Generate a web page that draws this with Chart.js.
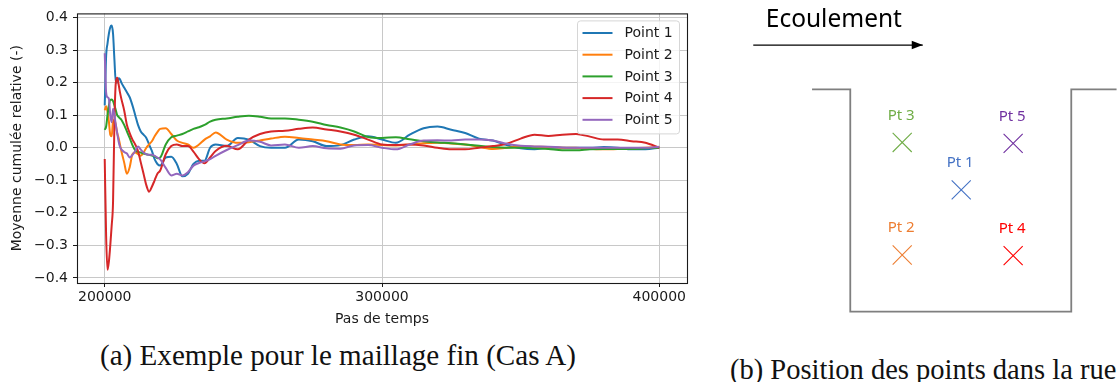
<!DOCTYPE html>
<html>
<head>
<meta charset="utf-8">
<script src="https://cdn.jsdelivr.net/npm/chart.js@4.4.1/dist/chart.umd.min.js"></script>
<style>
  html, body { margin: 0; padding: 0; background: #fff; width: 1119px; height: 382px; overflow: hidden; }
  #plot { position: absolute; left: 0; top: 0; }
  #street { position: absolute; left: 740px; top: 0; }
  .cap { position: absolute; font-family: "Liberation Serif", serif; line-height: 30px; color: #111; white-space: nowrap; }
</style>
</head>
<body>
<canvas id="plot" width="700" height="335"></canvas>
<canvas id="street" width="379" height="340"></canvas>
<div class="cap" style="left:100px; top:340px; font-size:29.1px;">(a) Exemple pour le maillage fin (Cas A)</div>
<div class="cap" style="left:730px; top:355px; font-size:28.5px;">(b) Position des points dans la rue</div>

<script>
// Time steps of the running average (finer sampling at the start of the run)
const steps = [
  200000, 200500, 201000, 201500, 202000, 202500, 203000, 203500, 204000, 204500, 205000, 205500, 206000,
  207000, 208000, 209000, 210000, 211000, 212000, 213000, 214000, 215000, 216000, 217000, 218000, 219000, 220000,
  222000, 224000, 226000, 228000, 230000, 232000, 234000, 236000, 238000, 240000,
  244000, 248000, 252000, 256000, 260000,
  265000, 270000, 275000, 280000, 285000, 290000, 295000, 300000, 305000, 310000, 315000, 320000, 325000, 330000,
  335000, 340000, 345000, 350000, 355000, 360000, 365000, 370000, 375000, 380000, 385000, 390000, 395000, 400000
];

// Relative cumulative mean at each probe
const point1 = [
  0.13, 0.28, 0.32, 0.35, 0.37, 0.375, 0.35, 0.27, 0.2, 0.2, 0.213, 0.21, 0.2,
  0.185, 0.17, 0.155, 0.13, 0.1, 0.07, 0.05, 0.04, 0.03, 0.01, -0.01, -0.035, -0.05, -0.055,
  -0.03, -0.028, -0.05, -0.088, -0.08, -0.05, -0.04, -0.04, 0.0, 0.01,
  0.005, 0.03, 0.025, 0.005, 0.0,
  0.0, 0.025, 0.02, 0.005, 0.008, 0.025, 0.035, 0.025, 0.015, 0.04, 0.06, 0.065, 0.055, 0.045,
  0.028, 0.022, 0.008, -0.002, -0.005, 0.0, 0.0, 0.0, 0.0, 0.002, 0.0, -0.005, -0.005, 0.0
];
const point2 = [
  0.115, 0.127, 0.11, 0.08, 0.04, 0.035, 0.08, 0.085, 0.07, 0.045, 0.03, 0.01, -0.01,
  -0.045, -0.08, -0.06, -0.02, -0.015, -0.02, -0.025, -0.015, 0.0, 0.01, 0.02, 0.035, 0.048, 0.058,
  0.06, 0.042, 0.022, 0.015, 0.01, 0.0, 0.01, 0.025, 0.035, 0.047,
  0.025, 0.015, 0.017, 0.022, 0.028,
  0.034, 0.03, 0.025, 0.02, 0.01, 0.008, 0.01, 0.008, 0.007, 0.01, 0.014, 0.015, 0.013, 0.01,
  0.003, -0.004, 0.0, 0.004, 0.003, 0.002, 0.0, 0.0, -0.003, -0.005, -0.004, -0.002, 0.0, 0.002
];
const point3 = [
  0.055, 0.065, 0.1, 0.13, 0.147, 0.148, 0.143, 0.13, 0.115, 0.1, 0.095, 0.09, 0.086,
  0.07, 0.05, 0.03, 0.008, -0.008, -0.013, -0.015, -0.018, -0.02, -0.022, -0.024, -0.026, -0.032, -0.03,
  0.01, 0.032, 0.037, 0.042, 0.05, 0.058, 0.063, 0.07, 0.08, 0.086,
  0.09, 0.095, 0.098, 0.095, 0.09,
  0.09, 0.086, 0.08, 0.07, 0.062, 0.05, 0.033, 0.03, 0.032, 0.026, 0.02, 0.016, 0.014, 0.01,
  0.006, 0.002, 0.0, 0.0, -0.002, -0.004, -0.008, -0.008, -0.005, -0.004, -0.004, -0.004, -0.002, 0.0
];
const point4 = [
  -0.035, -0.27, -0.375, -0.35, -0.3, -0.24, -0.167, 0.08, 0.2, 0.215, 0.195, 0.17, 0.15,
  0.115, 0.07, 0.045, 0.025, 0.01, -0.01, -0.045, -0.08, -0.115, -0.135, -0.12, -0.1, -0.08, -0.07,
  -0.02, 0.005, 0.01, 0.005, 0.005, -0.012, -0.035, -0.048, -0.03, -0.01,
  0.006, -0.005, 0.025, 0.042, 0.05,
  0.052, 0.058, 0.062, 0.056, 0.05, 0.04, 0.025, 0.01, 0.008, 0.01, 0.007, 0.0, -0.005, -0.005,
  0.0, 0.005, 0.012, 0.028, 0.04, 0.036, 0.04, 0.042, 0.034, 0.025, 0.025, 0.02, 0.015, 0.0
];
const point5 = [
  0.29, 0.17, 0.155, 0.15, 0.1, 0.078, 0.12, 0.1, 0.07, 0.045, 0.02, 0.003, -0.005,
  -0.013, -0.018, -0.03, -0.022, -0.01, 0.004, -0.006, -0.015, -0.02, -0.022, -0.022, -0.025, -0.03, -0.036,
  -0.062, -0.085, -0.08, -0.085, -0.075, -0.055, -0.047, -0.042, -0.035, -0.025,
  -0.007, 0.008, 0.022, 0.018, 0.007,
  0.01, 0.0, 0.005, -0.002, -0.003, 0.007, 0.008, 0.0, -0.005, 0.01, 0.022, 0.023, 0.022, 0.025,
  0.025, 0.022, 0.012, 0.006, 0.004, 0.003, 0.001, 0.0, 0.0, 0.0, 0.0, 0.0, 0.0, 0.003
];

const seriesNames = ['Point 1', 'Point 2', 'Point 3', 'Point 4', 'Point 5'];
const seriesValues = [point1, point2, point3, point4, point5];
const seriesColors = ['#1f77b4', '#ff7f0e', '#2ca02c', '#d62728', '#9467bd'];

const xTicks = [200000, 300000, 400000];
const yTicks = [-0.4, -0.3, -0.2, -0.1, 0.0, 0.1, 0.2, 0.3, 0.4];

// Probe layout in the street canyon (x: across the street, y: height, both scaled by the street width)
const probeNames = ['Pt 1', 'Pt 2', 'Pt 3', 'Pt 4', 'Pt 5'];
const probeX = [0.502, 0.235, 0.235, 0.737, 0.737];
const probeY = [0.548, 0.255, 0.761, 0.252, 0.757];
const probeColors = ['#4472c4', '#ed7d31', '#70ad47', '#ff0000', '#7030a0'];

// Street outline: roofs, walls and ground
const wallX = [-0.173, 0, 0, 1, 1, 1.205];
const wallY = [1, 1, 0, 0, 1, 1];

// Flow direction arrow above the street
const flowX = [-0.439, 0.328];
const flowY = [1.199, 1.199];
const flowLabel = 'Ecoulement';

const tickFont = { family: '"DejaVu Sans", sans-serif', size: 14 };
const textColor = '#1a1a1a';

const fmtY = v => v.toFixed(1).replace('-', '\u2212');

// Box around the plotting area (all four sides)
const frame = {
  id: 'frame',
  afterDatasetsDraw(chart) {
    const { ctx, chartArea: a } = chart;
    ctx.save();
    ctx.strokeStyle = '#1a1a1a';
    ctx.lineWidth = 1.1;
    ctx.strokeRect(a.left + 0.5, a.top + 0.5, a.right - a.left, a.bottom - a.top);
    ctx.restore();
  }
};

// Legend in the upper right corner of the plotting area
const cornerLegend = {
  id: 'cornerLegend',
  afterDraw(chart) {
    const { ctx, chartArea: a } = chart;
    const w = 102, h = 113, r = 3;
    const x0 = a.right - 8 - w, y0 = a.top + 7;
    ctx.save();
    ctx.beginPath();
    ctx.roundRect(x0 + 0.5, y0 + 0.5, w, h, r);
    ctx.fillStyle = 'rgba(255,255,255,0.8)';
    ctx.fill();
    ctx.strokeStyle = '#d6d6d6';
    ctx.lineWidth = 1;
    ctx.stroke();
    ctx.font = '14px "DejaVu Sans", sans-serif';
    ctx.textBaseline = 'middle';
    ctx.textAlign = 'left';
    chart.data.datasets.forEach((ds, i) => {
      const y = y0 + 12.6 + i * 21.7;
      ctx.beginPath();
      ctx.moveTo(x0 + 5.5, y);
      ctx.lineTo(x0 + 35.5, y);
      ctx.strokeStyle = ds.borderColor;
      ctx.lineWidth = 2;
      ctx.stroke();
      ctx.fillStyle = textColor;
      ctx.fillText(ds.label, x0 + 47.5, y + 0.5);
    });
    ctx.restore();
  }
};

new Chart(document.getElementById('plot'), {
  type: 'line',
  data: {
    datasets: seriesNames.map((name, i) => ({
      label: name,
      data: steps.map((t, k) => ({ x: t, y: seriesValues[i][k] })),
      borderColor: seriesColors[i],
      backgroundColor: seriesColors[i],
      borderWidth: 2,
      pointRadius: 0,
      fill: false,
      cubicInterpolationMode: 'monotone',
      order: seriesNames.length - i
    }))
  },
  options: {
    responsive: false,
    animation: false,
    devicePixelRatio: 1,
    layout: { padding: { top: 10, right: 13, left: 0, bottom: 0 }, autoPadding: false },
    plugins: { legend: { display: false }, tooltip: { enabled: false } },
    scales: {
      x: {
        type: 'linear',
        min: 190000,
        max: 410000,
        afterBuildTicks: s => { s.ticks = xTicks.map(v => ({ value: v })); },
        afterFit: s => { s.height = 52; },
        ticks: { font: tickFont, color: textColor, padding: 2, maxRotation: 0, autoSkip: false, callback: v => String(v) },
        grid: { color: '#c8c8c8', lineWidth: 1, tickColor: '#1a1a1a', tickLength: 4 },
        border: { display: false },
        title: { display: true, text: 'Pas de temps', font: tickFont, color: textColor, padding: { top: 0, bottom: 7.6 } }
      },
      y: {
        type: 'linear',
        min: -0.4155,
        max: 0.4125,
        afterBuildTicks: s => { s.ticks = yTicks.map(v => ({ value: v })); },
        afterFit: s => { s.width = 77; },
        ticks: { font: tickFont, color: textColor, padding: 5, autoSkip: false, callback: v => fmtY(v) },
        grid: { color: '#c8c8c8', lineWidth: 1, tickColor: '#1a1a1a', tickLength: 4 },
        border: { display: false },
        title: { display: true, text: 'Moyenne cumulée relative (-)', font: tickFont, color: textColor, padding: { top: 8.6, bottom: 0 } }
      }
    }
  },
  plugins: [frame, cornerLegend]
});

// Arrow head, flow caption and probe names for the street sketch
const sketchText = {
  id: 'sketchText',
  afterDatasetsDraw(chart) {
    const { ctx } = chart;
    const arrow = chart.getDatasetMeta(1).data;
    const p0 = arrow[0], p1 = arrow[arrow.length - 1];
    ctx.save();
    ctx.beginPath();
    ctx.moveTo(p1.x, p1.y);
    ctx.lineTo(p1.x - 11, p1.y - 4.2);
    ctx.lineTo(p1.x - 11, p1.y + 4.2);
    ctx.closePath();
    ctx.fillStyle = '#000';
    ctx.fill();

    ctx.font = '24.5px "Noto Sans", sans-serif';
    ctx.fillStyle = '#000';
    ctx.textAlign = 'left';
    ctx.textBaseline = 'alphabetic';
    ctx.fillText(flowLabel, p0.x + 12.5, p0.y - 18);

    ctx.font = '15px "Noto Sans", sans-serif';
    ctx.textAlign = 'center';
    ctx.textBaseline = 'middle';
    chart.getDatasetMeta(2).data.forEach((pt, i) => {
      ctx.fillStyle = probeColors[i];
      ctx.fillText(probeNames[i], pt.x - 1, pt.y - 27);
    });
    ctx.restore();
  }
};

new Chart(document.getElementById('street'), {
  type: 'scatter',
  data: {
    datasets: [
      {
        data: wallX.map((x, i) => ({ x, y: wallY[i] })),
        showLine: true,
        borderColor: '#7f7f7f',
        borderWidth: 1.8,
        pointRadius: 0,
        tension: 0
      },
      {
        data: flowX.map((x, i) => ({ x, y: flowY[i] })),
        showLine: true,
        borderColor: '#000',
        borderWidth: 1.3,
        pointRadius: 0,
        tension: 0
      },
      {
        data: probeX.map((x, i) => ({ x, y: probeY[i] })),
        pointStyle: 'crossRot',
        pointRadius: 13.5,
        borderColor: probeColors,
        backgroundColor: probeColors,
        borderWidth: 1.1
      }
    ]
  },
  options: {
    responsive: false,
    animation: false,
    devicePixelRatio: 1,
    layout: { padding: 0, autoPadding: false },
    plugins: { legend: { display: false }, tooltip: { enabled: false } },
    scales: {
      x: { type: 'linear', display: false, min: -0.499, max: 1.216 },
      y: { type: 'linear', display: false, min: -0.1273, max: 1.4015 }
    }
  },
  plugins: [sketchText]
});
</script>
</body>
</html>
